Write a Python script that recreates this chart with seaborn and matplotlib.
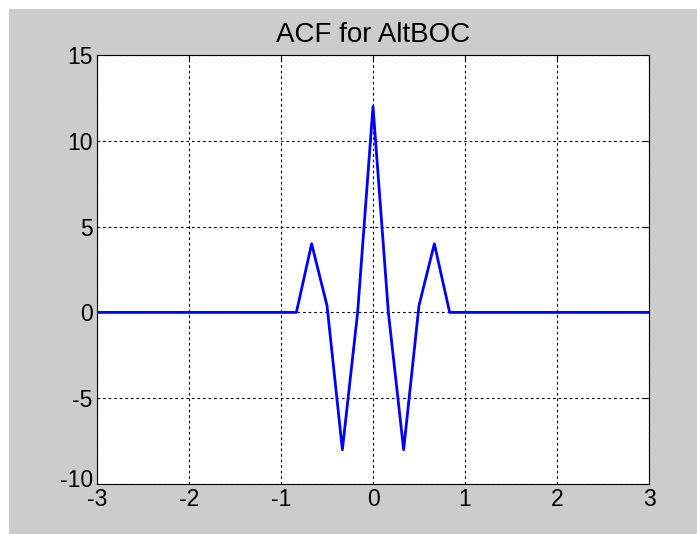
import matplotlib
matplotlib.use("Agg")
import matplotlib.pyplot as plt
import matplotlib.transforms as mtransforms
import seaborn as sns
import pandas as pd
from matplotlib.patches import Rectangle

# Data
delay = [-3.0, -0.833, -0.667, -0.5, -0.333, -0.167, 0.0, 0.167, 0.333, 0.5, 0.667, 0.833, 3.0]
acf = [0.0, 0.0, 4.0, 0.4, -8.0, 0.0, 12.0, 0.0, -8.0, 0.4, 4.0, 0.0, 0.0]
x_ticks = [-3, -2, -1, 0, 1, 2, 3]
y_ticks = [-10, -5, 0, 5, 10, 15]
title = "ACF for AltBOC"

sns.set_style("white")
plt.rcParams['font.family'] = ['Liberation Sans', 'DejaVu Sans']

fig = plt.figure(figsize=(6.97, 5.34), dpi=100)
fig.patch.set_facecolor('white')
fig.patches.append(Rectangle((9 / 697, 0), 1 - 9 / 697, 1 - 9 / 534,
                             transform=fig.transFigure, facecolor='#cccccc',
                             edgecolor='none', zorder=-10))
ax = fig.add_axes([97 / 697, 1 - 484 / 534, (649 - 97) / 697, (484 - 55) / 534])
ax.set_facecolor('white')

df = pd.DataFrame({"delay": delay, "acf": acf})
sns.lineplot(data=df, x="delay", y="acf", ax=ax, color='#0000ff', linewidth=2.0,
             sort=False, zorder=3)

ax.set_xlim(-3, 3)
ax.set_ylim(-10, 15)
ax.set_xticks(x_ticks)
ax.set_yticks(y_ticks)
ax.set_xticklabels([str(t) for t in x_ticks])
ax.set_yticklabels([str(t) for t in y_ticks])
ax.set_xlabel("")
ax.set_ylabel("")
ax.grid(True, color='black', linestyle=(0, (2.4, 2.6)), linewidth=0.8)
ax.set_axisbelow(True)
for s in ax.spines.values():
    s.set_visible(True)
    s.set_color('black')
    s.set_linewidth(0.8)
ax.tick_params(direction='in', length=4, width=0.8, top=True, right=True,
               labelsize=16.5, colors='black', pad=3)
ax.set_title(title, fontsize=20, pad=9, color='black')

# nudge the lowest y label up slightly, as in the reference
lbl = ax.get_yticklabels()[0]
lbl.set_transform(lbl.get_transform() + mtransforms.ScaledTranslation(0, 6 / 100, fig.dpi_scale_trans))

fig.savefig("out.png", dpi=100, facecolor=fig.get_facecolor())
